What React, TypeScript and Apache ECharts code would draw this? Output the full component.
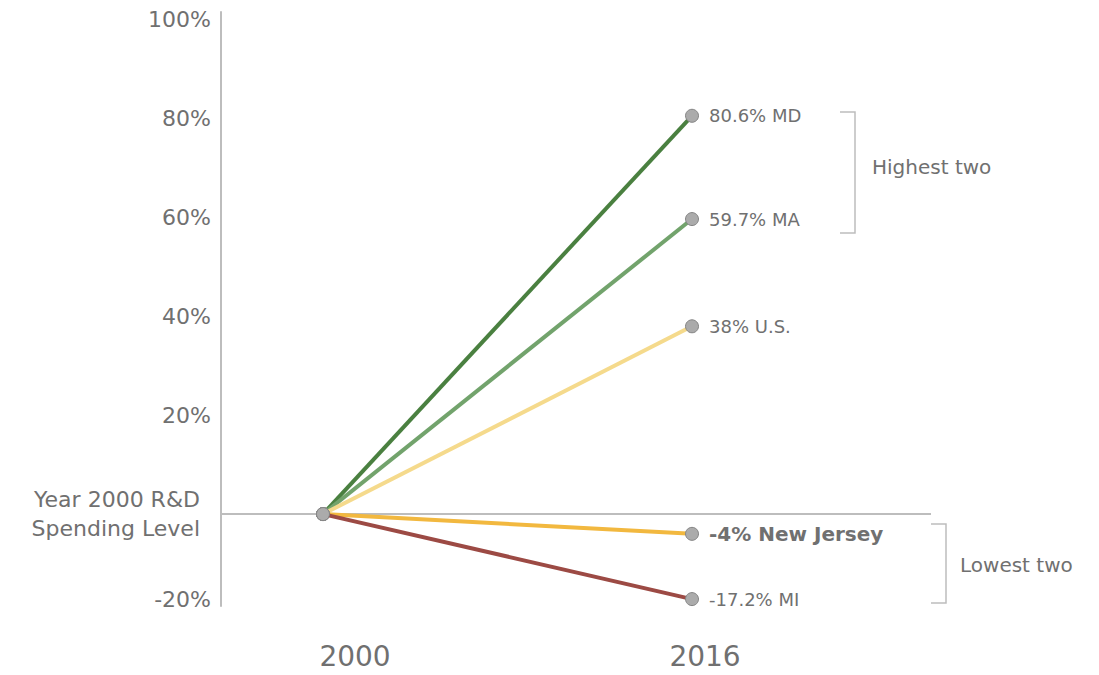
import React, { useEffect, useRef } from "react";
import * as echarts from "echarts";

const years = [2000, 2016];
const seriesNames = ["MD", "MA", "U.S.", "New Jersey", "MI"];
const seriesValues2016 = [80.6, 59.7, 38, -4, -17.2];
const seriesLabels = ["80.6% MD", "59.7% MA", "38% U.S.", "-4% New Jersey", "-17.2% MI"];
const seriesColors = ["#4a8040", "#72a36c", "#f5da8c", "#f2b83f", "#9c4a44"];
const yTickValues = [-17.2, 0, 20, 40, 60, 80, 100];
const yTickLabels = ["-20%", "Year 2000 R&D\nSpending Level", "20%", "40%", "60%", "80%", "100%"];
const bracketTexts = ["Highest two", "Lowest two"];

const FONT = "DejaVu Sans";
const GRAY = "#707070";

export default function App() {
  const ref = useRef<HTMLDivElement>(null);
  useEffect(() => {
    if (!ref.current) return;
    const chart = echarts.init(ref.current, null, { renderer: "svg" });
    const series: any[] = seriesNames.map((name, i) => ({
      name,
      type: "line",
      xAxisIndex: 0,
      data: [
        [years[0], 0],
        [years[1], seriesValues2016[i]],
      ],
      symbol: "circle",
      symbolSize: 13,
      lineStyle: { color: seriesColors[i], width: 4 },
      itemStyle: { color: "#ababab", borderColor: "#858585", borderWidth: 1 },
      z: 2 + i,
      label: {
        show: true,
        position: "right",
        distance: 10,
        fontFamily: FONT,
        color: GRAY,
        fontSize: i === 3 ? 20 : 18,
        fontWeight: i === 3 ? "bold" : "normal",
        formatter: (p: any) => (p.dataIndex === 1 ? seriesLabels[i] : ""),
      },
    }));
    series[0].markLine = {
      silent: true,
      symbol: "none",
      label: { show: false },
      lineStyle: { color: "#bdbdbd", width: 2, type: "solid" },
      data: [{ yAxis: 0 }],
      z: 1,
    };
    chart.setOption({
      animation: false,
      backgroundColor: "#ffffff",
      grid: { left: 221, right: 168, top: 12, bottom: 69 },
      xAxis: [
        {
          type: "value",
          min: 1995.577,
          max: 2026.363,
          splitLine: { show: false },
          axisTick: { show: false },
          axisLine: { show: false, onZero: false },
          axisLabel: { show: false },
        },
        {
          type: "value",
          position: "bottom",
          min: 1993.874,
          max: 2026.331,
          splitLine: { show: false },
          axisTick: { show: false },
          axisLine: { show: false, onZero: false },
          axisLabel: {
            customValues: years,
            margin: 35,
            fontFamily: FONT,
            fontSize: 28,
            lineHeight: 30,
            color: GRAY,
            formatter: (v: number) => String(v),
          },
        },
      ],
      yAxis: {
        type: "value",
        min: -18.6,
        max: 101.6,
        splitLine: { show: false },
        axisTick: { show: false },
        axisLine: { show: true, lineStyle: { color: "#bdbdbd", width: 2 } },
        axisLabel: {
          customValues: yTickValues,
          margin: 10,
          formatter: (v: number) => {
            const idx = yTickValues.findIndex((t) => Math.abs(t - v) < 1e-6);
            const txt = idx >= 0 ? yTickLabels[idx] : "";
            return v === 0 ? `{z|${txt}}` : `{n|${txt}}`;
          },
          rich: {
            n: { fontFamily: FONT, fontSize: 22, color: GRAY },
            z: { fontFamily: FONT, fontSize: 22, color: GRAY, lineHeight: 29, padding: [0, 11, 0, 0], align: "right" },
          },
        },
      },
      graphic: [
        {
          type: "polyline",
          shape: { points: [[840, 112], [855, 112], [855, 233], [840, 233]] },
          style: { stroke: "#bdbdbd", lineWidth: 1.5, fill: "none" },
        },
        {
          type: "text",
          x: 872,
          y: 167,
          style: { text: bracketTexts[0], fontFamily: FONT, fontSize: 20, fill: GRAY, verticalAlign: "middle" },
        },
        {
          type: "polyline",
          shape: { points: [[931, 524], [946, 524], [946, 603], [931, 603]] },
          style: { stroke: "#bdbdbd", lineWidth: 1.5, fill: "none" },
        },
        {
          type: "text",
          x: 960,
          y: 565,
          style: { text: bracketTexts[1], fontFamily: FONT, fontSize: 20, fill: GRAY, verticalAlign: "middle" },
        },
      ],
      series,
    });
    return () => chart.dispose();
  }, []);
  return <div ref={ref} style={{ position: "fixed", left: 0, top: 0, width: 1099, height: 675 }} />;
}
